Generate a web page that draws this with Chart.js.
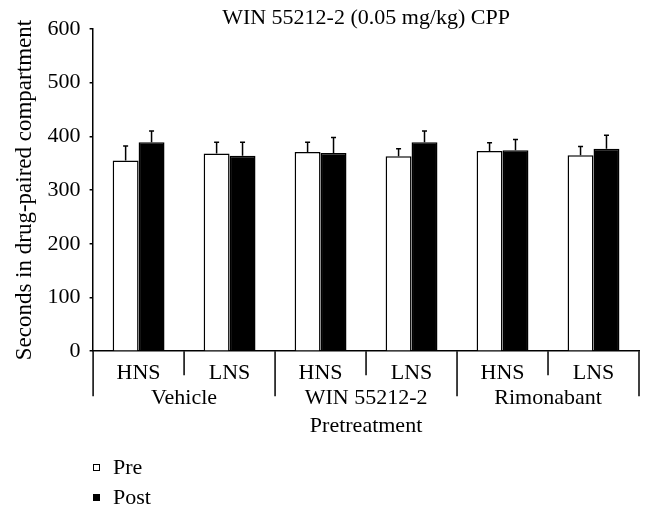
<!DOCTYPE html>
<html>
<head>
<meta charset="utf-8">
<script src="https://cdn.jsdelivr.net/npm/chart.js@4.4.1/dist/chart.umd.min.js"></script>
<style>
  body { margin: 0; background: #fff; }
  #wrap { position: relative; width: 654px; height: 512px; overflow: hidden; }
  #legend { position: absolute; left: 0; top: 0; font-family: "Liberation Serif", serif; font-size: 22px; color: #000; }
  .item { position: absolute; left: 93px; height: 26px; line-height: 26px; white-space: nowrap; }
  .box { position: absolute; left: 0; top: 10px; width: 5px; height: 5px; border: 1px solid #000; }
  .lbl { position: absolute; left: 20px; top: 0; }
</style>
</head>
<body>
<div id="wrap">
  <canvas id="myChart"></canvas>
  <div id="legend"></div>
</div>
<script>
// data
const categories = ['HNS', 'LNS', 'HNS', 'LNS', 'HNS', 'LNS'];
const groups = ['Vehicle', 'WIN 55212-2', 'Rimonabant'];
const preValues = [355, 368, 371, 363, 373, 365];
const postValues = [389, 364, 369, 389, 374, 377];
const preErrors = [27, 21, 18, 14, 15, 16];
const postErrors = [21, 25, 29, 21, 20, 25];
const yTicks = [0, 100, 200, 300, 400, 500, 600];

const serif = '"Liberation Serif", "Times New Roman", serif';

// error bars (upper only)
const errorBars = {
  id: 'errorBars',
  afterDatasetsDraw(chart) {
    const ctx = chart.ctx;
    const y = chart.scales.y;
    ctx.save();
    ctx.strokeStyle = '#000';
    ctx.lineWidth = 1.5;
    chart.data.datasets.forEach((ds, d) => {
      const meta = chart.getDatasetMeta(d);
      meta.data.forEach((bar, i) => {
        const top = y.getPixelForValue(ds.data[i] + ds.errors[i]);
        ctx.beginPath();
        ctx.moveTo(bar.x, bar.y);
        ctx.lineTo(bar.x, top);
        ctx.moveTo(bar.x - 2.5, top);
        ctx.lineTo(bar.x + 2.5, top);
        ctx.stroke();
      });
    });
    ctx.restore();
  }
};

// separator lines and group names under the x axis
const groupLines = {
  id: 'groupLines',
  afterDraw(chart) {
    const ctx = chart.ctx;
    const x = chart.scales.x;
    const base = chart.chartArea.bottom;
    const w = x.width / categories.length;
    ctx.save();
    ctx.strokeStyle = '#000';
    ctx.lineWidth = 1.5;
    for (let i = 0; i <= categories.length; i++) {
      const px = x.left + i * w;
      ctx.beginPath();
      ctx.moveTo(px, base);
      ctx.lineTo(px, base + (i % 2 === 0 ? 45 : 24));
      ctx.stroke();
    }
    ctx.fillStyle = '#000';
    ctx.font = '22px ' + serif;
    ctx.textAlign = 'center';
    ctx.textBaseline = 'middle';
    groups.forEach((g, k) => {
      const cx = (x.getPixelForValue(2 * k) + x.getPixelForValue(2 * k + 1)) / 2;
      ctx.fillText(g, cx, base + 47);
    });
    ctx.restore();
  }
};

const ctx = document.getElementById('myChart');

const chart = new Chart(ctx, {
  type: 'bar',
  data: {
    labels: categories,
    datasets: [{
      label: 'Pre',
      data: preValues,
      errors: preErrors,
      backgroundColor: '#fff',
      borderColor: '#000',
      borderWidth: 1.5
    }, {
      label: 'Post',
      data: postValues,
      errors: postErrors,
      backgroundColor: '#000',
      borderColor: '#000',
      borderWidth: 1.5
    }]
  },
  options: {
    responsive: true,
    maintainAspectRatio: false,
    animation: false,
    categoryPercentage: 0.57,
    barPercentage: 1.0,
    layout: { padding: { left: 0, right: 15, bottom: 73 } },
    plugins: {
      legend: { display: false },
      tooltip: { enabled: false },
      title: {
        display: true,
        fullSize: false,
        text: 'WIN 55212-2 (0.05 mg/kg) CPP',
        color: '#000',
        font: { family: serif, size: 22, weight: 'normal', lineHeight: 1 },
        padding: { top: 7, bottom: 0 }
      }
    },
    scales: {
      y: {
        min: 0,
        max: 600,
        afterBuildTicks(scale) {
          scale.ticks = yTicks.map(v => ({ value: v }));
        },
        grid: { drawOnChartArea: false, color: '#000', lineWidth: 1.5, tickLength: 3.5 },
        border: { color: '#000', width: 1.5 },
        ticks: { color: '#000', padding: 9, font: { family: serif, size: 22 } },
        title: {
          display: true,
          text: 'Seconds in drug-paired compartment',
          color: '#000',
          font: { family: serif, size: 23 },
          padding: { top: 11, bottom: 0 }
        }
      },
      x: {
        grid: { drawOnChartArea: false, drawTicks: false },
        border: { color: '#000', width: 1.5 },
        ticks: { color: '#000', padding: 9, font: { family: serif, size: 22 } },
        title: {
          display: true,
          text: 'Pretreatment',
          color: '#000',
          font: { family: serif, size: 22 },
          padding: { top: 17, bottom: 0 }
        }
      }
    }
  },
  plugins: [errorBars, groupLines]
});

// legend below the chart
const legend = document.getElementById('legend');
const legendTops = [454, 484];
chart.data.datasets.forEach((ds, i) => {
  const item = document.createElement('div');
  item.className = 'item';
  item.style.top = legendTops[i] + 'px';
  item.innerHTML = '<span class="box" style="background:' + ds.backgroundColor + '"></span><span class="lbl">' + ds.label + '</span>';
  legend.appendChild(item);
});
</script>
</body>
</html>
